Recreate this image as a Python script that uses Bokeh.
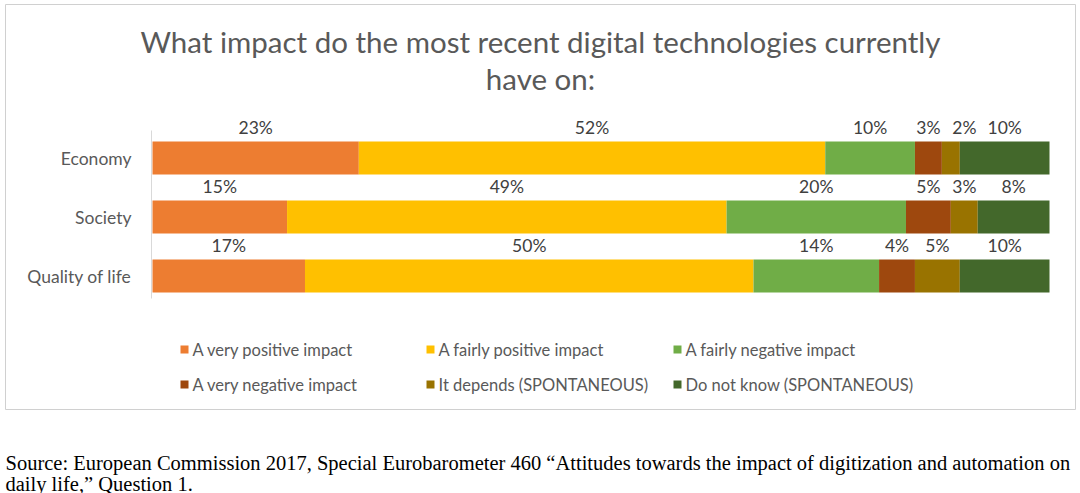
from bokeh.plotting import figure
from bokeh.models import Range1d, ColumnDataSource
from bokeh.core.properties import value
from bokeh.embed import file_html
from bokeh.resources import INLINE

# ---- data ----
categories = ["Economy", "Society", "Quality of life"]
series_names = ["A very positive impact", "A fairly positive impact", "A fairly negative impact",
                "A very negative impact", "It depends (SPONTANEOUS)", "Do not know (SPONTANEOUS)"]
very_positive = [23, 15, 17]
fairly_positive = [52, 49, 50]
fairly_negative = [10, 20, 14]
very_negative = [3, 5, 4]
it_depends = [2, 3, 5]
do_not_know = [10, 8, 10]
series_values = [very_positive, fairly_positive, fairly_negative, very_negative, it_depends, do_not_know]
colors = ["#ED7D31", "#FFC000", "#70AD47", "#9E480E", "#997300", "#43682B"]
title_lines = ["What impact do the most recent digital technologies currently", "have on:"]
source_lines = ["Source: European Commission 2017, Special Eurobarometer 460 \u201cAttitudes towards the impact of digitization and automation on",
                "daily life,\u201d Question 1."]

W, H = 1080, 493
left_px, right_px = 152, 1049
scale = (right_px - left_px) / 100.0

p = figure(width=W, height=H, output_backend="svg", toolbar_location=None,
           x_range=Range1d(-left_px / scale, (W - left_px) / scale),
           y_range=Range1d(H, 0), x_axis_location=None, y_axis_location=None,
           min_border=0, outline_line_color=None, background_fill_color="white",
           border_fill_color="white")
p.grid.visible = False
p.extra_x_ranges = {"px": Range1d(0, W)}

FONT = value("Lato")
GREY = "#595959"

# frame box
p.quad(left=[5], right=[1075], top=[4], bottom=[409], fill_color=None,
       line_color="#d0d0d0", line_width=1, x_range_name="px")

# title
p.text(x=[540, 540], y=[41, 78], text=title_lines, text_font=FONT, text_font_size="29.5px",
       text_color=GREY, text_align="center", text_baseline="middle", x_range_name="px")

# bars
bar_y = [157.5 + i * 59 for i in range(len(categories))]
bar_h = 33
min_gap = 36 / scale  # minimum distance between neighbouring label centres
cum = [0.0] * len(categories)
prev_mid = [None] * len(categories)
for name, vals, col in zip(series_names, series_values, colors):
    lefts = cum[:]
    rights = [l + v for l, v in zip(lefts, vals)]
    mids = []
    for k, (l, r) in enumerate(zip(lefts, rights)):
        m = (l + r) / 2
        if prev_mid[k] is not None and m - prev_mid[k] < min_gap:
            m = prev_mid[k] + min_gap
        mids.append(m)
        prev_mid[k] = m
    src = ColumnDataSource(dict(y=bar_y, left=lefts, right=rights, mid=mids,
                                ly=[y - 31 for y in bar_y],
                                lab=[f"{v}%" for v in vals]))
    p.hbar(y="y", left="left", right="right", height=bar_h, source=src,
           fill_color=col, line_color=None)
    p.text(x="mid", y="ly", text="lab", source=src, text_font=FONT, text_font_size="17.5px",
           text_color="#404040", text_align="center", text_baseline="middle")
    cum = rights

# category axis line and labels
p.segment(x0=[151], x1=[151], y0=[130], y1=[298], line_color="#d9d9d9", line_width=1,
          x_range_name="px")
p.text(x=[131] * len(categories), y=bar_y, text=categories, text_font=FONT,
       text_font_size="17.5px", text_color=GREY, text_align="right", text_baseline="middle",
       x_range_name="px")

# legend (two rows x three columns)
sq_x = [184, 430, 677]
row_y = [349, 384]
lx, ly, lt, lc = [], [], [], []
for i, (name, col) in enumerate(zip(series_names, colors)):
    r, c = divmod(i, 3)
    lx.append(sq_x[c]); ly.append(row_y[r]); lt.append(name); lc.append(col)
p.scatter(x=lx, y=ly, marker="square", size=8, fill_color=lc, line_color=None,
          x_range_name="px")
p.text(x=[x + 8 for x in lx], y=ly, text=lt, text_font=FONT, text_font_size="16.5px",
       text_color=GREY, text_align="left", text_baseline="middle", x_range_name="px")

# source
p.text(x=[5, 5], y=[462, 483], text=source_lines, text_font=value("Liberation Serif"),
       text_font_size="20.5px", text_color="black", text_align="left",
       text_baseline="alphabetic", x_range_name="px")

open("out.html", "w").write(file_html(p, INLINE))
